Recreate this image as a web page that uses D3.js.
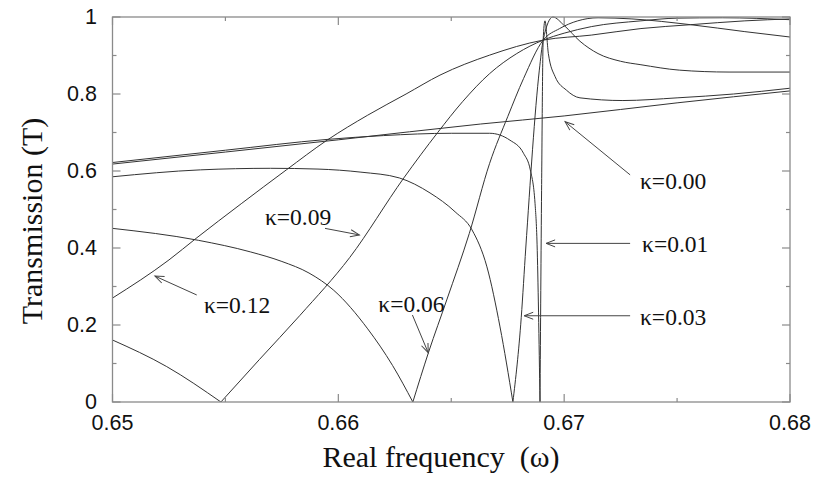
<!DOCTYPE html>
<html lang="en">
<head>
<meta charset="UTF-8">
<title>Transmission vs real frequency</title>
<script src="https://d3js.org/d3.v7.min.js"></script>
<style>
    body{ margin:0; background:white; }
    .tick-label{ font-family:"Liberation Sans", Arial, sans-serif; font-size:21.5px; fill:#111; }
    .axis-title{ font-family:"Liberation Serif", "Times New Roman", serif; font-size:30px; fill:#111; }
    .kappa{ font-family:"Liberation Serif", "Times New Roman", serif; font-size:23.5px; fill:#111; }
    path.curve{ fill:none; stroke:#333; stroke-width:1; }
</style>
</head>
<body>
<svg id="canvas" width="816" height="479"></svg>
<script>
// curves: real frequency (omega) and transmission T for each kappa
let w000 = [0.65, 0.66, 0.6663, 0.67, 0.675, 0.68];
let t000 = [0.618, 0.681, 0.722, 0.743, 0.777, 0.808];

let w001 = [0.65, 0.655, 0.6595, 0.662, 0.665, 0.6667, 0.6676, 0.6682, 0.6685, 0.66871, 0.6688, 0.66893,
            0.669, 0.66907, 0.66915, 0.6693, 0.6696, 0.6701, 0.6707, 0.6726, 0.675, 0.6775, 0.68];
let t001 = [0.622, 0.654, 0.682, 0.692, 0.698, 0.698, 0.68, 0.646, 0.603, 0.516, 0.41, 0,
            0.55, 0.94, 0.99, 0.905, 0.845, 0.81, 0.79, 0.783, 0.79, 0.8, 0.815];

let w003 = [0.65, 0.6539, 0.657, 0.6591, 0.661, 0.6627, 0.66406, 0.66517, 0.66592, 0.66658, 0.66716, 0.66773,
            0.6681, 0.6683, 0.6689, 0.66907, 0.6695, 0.67, 0.6707, 0.6715, 0.6725, 0.6734, 0.6751, 0.6773, 0.68];
let t003 = [0.585, 0.603, 0.607, 0.605, 0.597, 0.582, 0.543, 0.494, 0.447, 0.351, 0.195, 0,
            0.22, 0.4, 0.862, 0.94, 1.0, 0.978, 0.937, 0.905, 0.885, 0.876, 0.862, 0.857, 0.857];

let w006 = [0.65, 0.6538, 0.6561, 0.6575, 0.6587, 0.6598, 0.6613, 0.6624, 0.6633, 0.664, 0.6648, 0.6658,
            0.6667, 0.6675, 0.6682, 0.66907, 0.6698, 0.6706, 0.6715, 0.673, 0.6756, 0.678, 0.68];
let t006 = [0.451, 0.42, 0.39, 0.365, 0.335, 0.29, 0.19, 0.095, 0, 0.13, 0.265, 0.438,
            0.62, 0.741, 0.84, 0.94, 0.97, 0.99, 0.998, 0.995, 0.98, 0.962, 0.948];

let w009 = [0.65, 0.6524, 0.6548, 0.6565, 0.6583, 0.6605, 0.6629, 0.6644, 0.6655, 0.6667, 0.6679,
            0.66907, 0.67, 0.6712, 0.6734, 0.675, 0.677, 0.68];
let t009 = [0.161, 0.092, 0, 0.11, 0.225, 0.375, 0.582, 0.7, 0.78, 0.853, 0.905,
            0.94, 0.958, 0.975, 0.99, 0.997, 0.998, 0.993];

let w012 = [0.65, 0.6525, 0.6537, 0.6557, 0.6577, 0.6595, 0.6613, 0.663, 0.6645, 0.6667,
            0.66907, 0.6712, 0.6734, 0.6756, 0.678, 0.68];
let t012 = [0.27, 0.369, 0.425, 0.515, 0.603, 0.68, 0.745, 0.8, 0.849, 0.901,
            0.94, 0.953, 0.97, 0.98, 0.99, 0.995];

// axis ticks
let xTicks = [0.65, 0.66, 0.67, 0.68];
let xTickLabels = ["0.65", "0.66", "0.67", "0.68"];
let xMinor = [0.655, 0.665, 0.675];
let yTicks = [0, 0.2, 0.4, 0.6, 0.8, 1];
let yTickLabels = ["0", "0.2", "0.4", "0.6", "0.8", "1"];
let yMinor = [0.1, 0.3, 0.5, 0.7, 0.9];

// kappa labels: text anchor (omega, T), arrow tail, arrow tip
let kLabels = ["\u03ba=0.00", "\u03ba=0.01", "\u03ba=0.03", "\u03ba=0.06", "\u03ba=0.09", "\u03ba=0.12"];
let kTextW = [0.67336, 0.67345, 0.67336, 0.66177, 0.65675, 0.65405];
let kTextT = [0.553, 0.39, 0.2, 0.2345, 0.46, 0.232];
let kFromW = [0.67292, 0.67292, 0.67292, 0.66328, 0.65941, 0.65373];
let kFromT = [0.59, 0.412, 0.224, 0.226, 0.451, 0.278];
let kTipW  = [0.67004, 0.6692, 0.66823, 0.66398, 0.66093, 0.65188];
let kTipT  = [0.728, 0.412, 0.224, 0.128, 0.434, 0.327];

let svg = d3.select('#canvas');
let plotLeft = 112.5, plotRight = 790, plotTop = 17, plotBottom = 402;

let x = d3.scaleLinear().domain([0.65, 0.68]).range([plotLeft, plotRight]);
let y = d3.scaleLinear().domain([0, 1]).range([plotBottom, plotTop]);

let defs = svg.append('defs');
defs.append('clipPath').attr('id', 'plotClip')
    .append('rect').attr('x', plotLeft).attr('y', plotTop - 1)
    .attr('width', plotRight - plotLeft).attr('height', plotBottom - plotTop + 1);

defs.append('marker')
    .attr('id', 'openArrow')
    .attr('markerUnits', 'userSpaceOnUse')
    .attr('viewBox', '-10 -5 12 10')
    .attr('refX', 0).attr('refY', 0)
    .attr('markerWidth', 12).attr('markerHeight', 10)
    .attr('orient', 'auto')
    .append('path')
    .attr('d', 'M-9,-3.5 L0,0 L-9,3.5')
    .attr('fill', 'none').attr('stroke', '#444').attr('stroke-width', 1);

// curves: split at the zero dips so the V shape stays sharp
let series = [[w000, t000], [w001, t001], [w003, t003], [w006, t006], [w009, t009], [w012, t012]];
let line = d3.line().x(d => x(d[0])).y(d => y(d[1])).curve(d3.curveMonotoneX);

let curveG = svg.append('g').attr('clip-path', 'url(#plotClip)');
series.forEach(function (s) {
    let pts = s[0].map((w, i) => [w, s[1][i]]);
    let segs = [], cur = [];
    pts.forEach(function (p, i) {
        cur.push(p);
        if (p[1] === 0 && i > 0 && i < pts.length - 1) {
            segs.push(cur);
            cur = [p];
        }
    });
    segs.push(cur);
    segs.forEach(function (seg) {
        curveG.append('path').attr('class', 'curve').attr('d', line(seg));
    });
});

// frame and ticks
let frameColor = '#8a8a8a';
svg.append('rect')
    .attr('x', plotLeft).attr('y', plotTop)
    .attr('width', plotRight - plotLeft).attr('height', plotBottom - plotTop)
    .attr('fill', 'none').attr('stroke', frameColor).attr('stroke-width', 1.3);

let tickG = svg.append('g').attr('stroke', frameColor).attr('stroke-width', 1.2);
function xTick(v, len) {
    tickG.append('line').attr('x1', x(v)).attr('x2', x(v)).attr('y1', plotBottom).attr('y2', plotBottom - len);
    tickG.append('line').attr('x1', x(v)).attr('x2', x(v)).attr('y1', plotTop).attr('y2', plotTop + len);
}
function yTick(v, len) {
    tickG.append('line').attr('y1', y(v)).attr('y2', y(v)).attr('x1', plotLeft).attr('x2', plotLeft + len);
    tickG.append('line').attr('y1', y(v)).attr('y2', y(v)).attr('x1', plotRight).attr('x2', plotRight - len);
}
xTicks.forEach(v => xTick(v, 8));
xMinor.forEach(v => xTick(v, 4));
yTicks.forEach(v => yTick(v, 8));
yMinor.forEach(v => yTick(v, 4));

svg.selectAll('text.xlab').data(xTicks).enter().append('text')
    .attr('class', 'tick-label xlab')
    .attr('x', d => x(d)).attr('y', 430)
    .attr('text-anchor', 'middle')
    .text((d, i) => xTickLabels[i]);

svg.selectAll('text.ylab').data(yTicks).enter().append('text')
    .attr('class', 'tick-label ylab')
    .attr('x', 97).attr('y', d => y(d))
    .attr('dy', '0.34em')
    .attr('text-anchor', 'end')
    .text((d, i) => yTickLabels[i]);

// axis titles
svg.append('text').attr('class', 'axis-title')
    .attr('x', 441).attr('y', 467)
    .attr('text-anchor', 'middle')
    .style('white-space', 'pre')
    .text('Real frequency  (\u03c9)');

svg.append('text').attr('class', 'axis-title')
    .attr('transform', 'translate(42,221) rotate(-90)')
    .attr('text-anchor', 'middle')
    .text('Transmission (T)');

// kappa annotations with arrows
kLabels.forEach(function (lab, i) {
    svg.append('line')
        .attr('x1', x(kFromW[i])).attr('y1', y(kFromT[i]))
        .attr('x2', x(kTipW[i])).attr('y2', y(kTipT[i]))
        .attr('stroke', '#444').attr('stroke-width', 1)
        .attr('marker-end', 'url(#openArrow)');
    svg.append('text').attr('class', 'kappa')
        .attr('x', x(kTextW[i])).attr('y', y(kTextT[i]))
        .text(lab);
});
</script>
</body>
</html>
